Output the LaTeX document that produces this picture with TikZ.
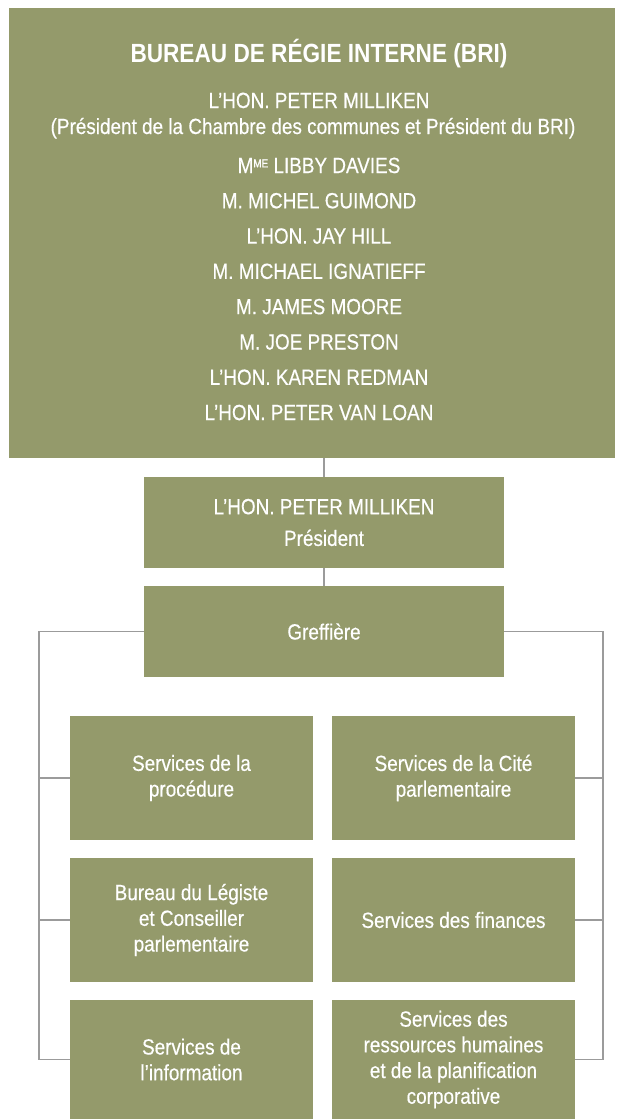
\documentclass[tikz,border=0pt]{standalone}
\usepackage{fontspec}
\setmainfont{Liberation Sans}[FakeStretch=0.86, UprightFeatures={FakeBold=0.4}]
\usetikzlibrary{positioning}
\definecolor{vertbri}{RGB}{148,154,107}
\definecolor{grislien}{RGB}{155,155,155}
\newcommand{\expo}[1]{\raisebox{5.6pt}{\fontsize{11.5}{11}\selectfont #1}}
\tikzset{
  boite/.style={fill=vertbri, text=white, align=center, inner sep=0pt,
    minimum width=243pt, minimum height=124pt, font=\fontsize{22}{25.7}\selectfont},
  ligne/.style={text=white, anchor=base, inner sep=0pt, font=\fontsize{22}{25.7}\selectfont},
  lien/.style={draw=grislien, line width=1.8pt}
}
\begin{document}
\begin{tikzpicture}[x=1pt,y=-1pt]
  \useasboundingbox (0,0) rectangle (624,1119);
  % Bureau de regie interne
  \node[boite, minimum width=606pt, minimum height=450pt] (bri) at (312,233) {};
  \node[ligne, font=\bfseries\fontsize{26.3}{30}\selectfont] (titre) at (319,62) {BUREAU DE RÉGIE INTERNE (BRI)};
  \node[ligne] (milliken) at (319,108) {L’HON. PETER MILLIKEN};
  \node[ligne] (fonction) at (313,134) {(Président de la Chambre des communes et Président du BRI)};
  \foreach \membre [count=\i from 0] in {M\expo{ME} LIBBY DAVIES, M. MICHEL GUIMOND,
      L’HON. JAY HILL, M. MICHAEL IGNATIEFF, M. JAMES MOORE, M. JOE PRESTON,
      L’HON. KAREN REDMAN, L’HON. PETER VAN LOAN}
    \node[ligne] (membre\i) at (319,173+35.3*\i) {\membre};
  % President et greffiere
  \node[boite, minimum width=360pt, minimum height=91pt] (pres) at (324,522.5) {L’HON. PETER MILLIKEN\\[6pt]Président};
  \node[boite, minimum width=360pt, minimum height=91pt] (greffe) at (324,631.5) {Greffière};
  % services
  \node[boite] (proc) at (191.5,778) {Services de la\\procédure};
  \node[boite] (cite) at (453.5,778) {Services de la Cité\\parlementaire};
  \node[boite] (legiste) at (191.5,920) {Bureau du Légiste\\et Conseiller\\parlementaire};
  \node[boite] (finances) at (453.5,920) {Services des finances};
  \node[boite, minimum height=119pt] (info) at (191.5,1059.5) {Services de\\l’information};
  \node[boite, minimum height=119pt] (rh) at (453.5,1059.5) {Services des\\ressources humaines\\et de la planification\\corporative};
  % liens
  \draw[lien] (pres.north) -- (pres.north |- bri.south);
  \draw[lien] (pres.south) -- (greffe.north);
  \draw[lien] (greffe.west) -| ([xshift=-31pt]info.west) -- (info.west);
  \draw[lien] (proc.west) -- ++(-31,0);
  \draw[lien] (legiste.west) -- ++(-31,0);
  \draw[lien] (greffe.east) -| ([xshift=28pt]rh.east) -- (rh.east);
  \draw[lien] (cite.east) -- ++(28,0);
  \draw[lien] (finances.east) -- ++(28,0);
\end{tikzpicture}
\end{document}
